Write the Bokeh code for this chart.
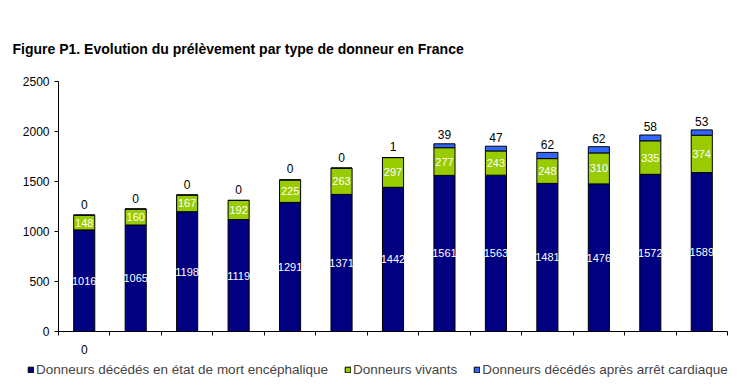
from bokeh.plotting import figure
from bokeh.models import (ColumnDataSource, Range1d, FixedTicker, LabelSet,
                          Legend, LegendItem)
from bokeh.core.properties import value
from bokeh.embed import file_html
from bokeh.resources import INLINE

# ---- data ----
categories = ["0", "", "", "", "", "", "", "", "", "", "", "", ""]
brain_death = [1016, 1065, 1198, 1119, 1291, 1371, 1442, 1561, 1563, 1481, 1476, 1572, 1589]
living = [148, 160, 167, 192, 225, 263, 297, 277, 243, 248, 310, 335, 374]
cardiac = [0, 0, 0, 0, 0, 0, 1, 39, 47, 62, 62, 58, 53]
series_names = ["Donneurs décédés en état de mort encéphalique",
                "Donneurs vivants",
                "Donneurs décédés après arrêt cardiaque"]
colors = ["#000080", "#99CC00", "#3366FF"]
y_ticks = [0, 500, 1000, 1500, 2000, 2500]
title_text = "Figure P1. Evolution du prélèvement par type de donneur en France"

n = len(categories)
xs = [i + 0.5 for i in range(n)]
src = ColumnDataSource(dict(
    x=xs,
    brain=brain_death, living=living, cardiac=cardiac,
    brain_mid=[b / 2 for b in brain_death],
    living_mid=[b + l / 2 for b, l in zip(brain_death, living)],
    card_mid=[b + l + c / 2 for b, l, c in zip(brain_death, living, cardiac)],
    brain_t=[str(v) for v in brain_death],
    living_t=[str(v) for v in living],
    card_t=[str(v) for v in cardiac],
))

FONT = "Arial"

p = figure(width=742, height=356, output_backend="svg", toolbar_location=None,
           x_range=Range1d(0, n), y_range=Range1d(0, y_ticks[-1]),
           min_border_left=58, min_border_right=15, min_border_top=81, min_border_bottom=23)
p.outline_line_color = None
p.xgrid.visible = False
p.ygrid.visible = False

# title
p.title.text = title_text
p.title.text_font = FONT
p.title.text_font_size = "14px"
p.title.text_font_style = "bold"
p.title.text_color = "black"
p.title.align = "left"
p.title.vertical_align = "top"
p.title.offset = -46
p.title.standoff = 46

renderers = p.vbar_stack(["brain", "living", "cardiac"], x="x", width=0.41, source=src,
                         color=colors, line_color="black", line_width=1)

# x axis: category labels at centres (only non-empty ones), tick marks at boundaries
label_ticks = [x for x, c in zip(xs, categories) if c]
p.xaxis.ticker = FixedTicker(ticks=label_ticks, minor_ticks=list(range(n + 1)))
p.xaxis.major_label_overrides = {x: c for x, c in zip(xs, categories) if c}
p.xaxis.major_tick_line_color = None
p.xaxis.major_tick_in = 0
p.xaxis.major_tick_out = 0
p.xaxis.minor_tick_in = 0
p.xaxis.minor_tick_out = 4
p.xaxis.minor_tick_line_color = "black"
p.xaxis.major_label_standoff = 9
p.xaxis.major_label_text_font = FONT
p.xaxis.major_label_text_font_size = "12px"
p.xaxis.major_label_text_color = "black"
p.xaxis.axis_line_color = "black"

p.yaxis.ticker = FixedTicker(ticks=y_ticks)
p.yaxis.major_tick_in = 0
p.yaxis.major_tick_out = 4
p.yaxis.minor_tick_line_color = None
p.yaxis.major_label_standoff = 5
p.yaxis.major_label_text_font = FONT
p.yaxis.major_label_text_font_size = "12px"
p.yaxis.major_label_text_color = "black"
p.yaxis.axis_line_color = "black"
p.yaxis.major_tick_line_color = "black"

# value labels
lab_font = value(FONT)
p.add_layout(LabelSet(x="x", y="brain_mid", text="brain_t", source=src,
                      text_color="white", text_font=lab_font, text_font_size="11px",
                      text_align="center", text_baseline="middle"))
p.add_layout(LabelSet(x="x", y="living_mid", text="living_t", source=src,
                      text_color="white", text_font=lab_font, text_font_size="11px",
                      text_align="center", text_baseline="middle"))
p.add_layout(LabelSet(x="x", y="card_mid", text="card_t", source=src, y_offset=11,
                      text_color="black", text_font=lab_font, text_font_size="12px",
                      text_align="center", text_baseline="middle"))

# legend in its own strip below the chart
leg = figure(width=742, height=34, output_backend="svg", toolbar_location=None,
             x_range=Range1d(0, 1), y_range=Range1d(0, 1),
             x_axis_location=None, y_axis_location=None,
             min_border_left=0, min_border_right=0, min_border_top=0, min_border_bottom=0)
leg.outline_line_color = None
leg.xgrid.visible = False
leg.ygrid.visible = False
proxy = ColumnDataSource(dict(x=[-100], top=[0]))  # legend proxies, outside the visible range
leg_renderers = [leg.vbar(x="x", top="top", width=0.1, source=proxy,
                          fill_color=c, line_color="black", line_width=1) for c in colors]
legend = Legend(items=[LegendItem(label=nm, renderers=[r]) for nm, r in zip(series_names, leg_renderers)],
                orientation="horizontal", location=(27, 13),
                glyph_width=7, glyph_height=7, label_standoff=2, spacing=16,
                padding=0, margin=0, border_line_color=None, background_fill_alpha=0,
                label_text_font=FONT, label_text_font_size="13.5px", label_height=14)
leg.add_layout(legend, "center")

open("out.html", "w").write(file_html([p, leg], INLINE))
